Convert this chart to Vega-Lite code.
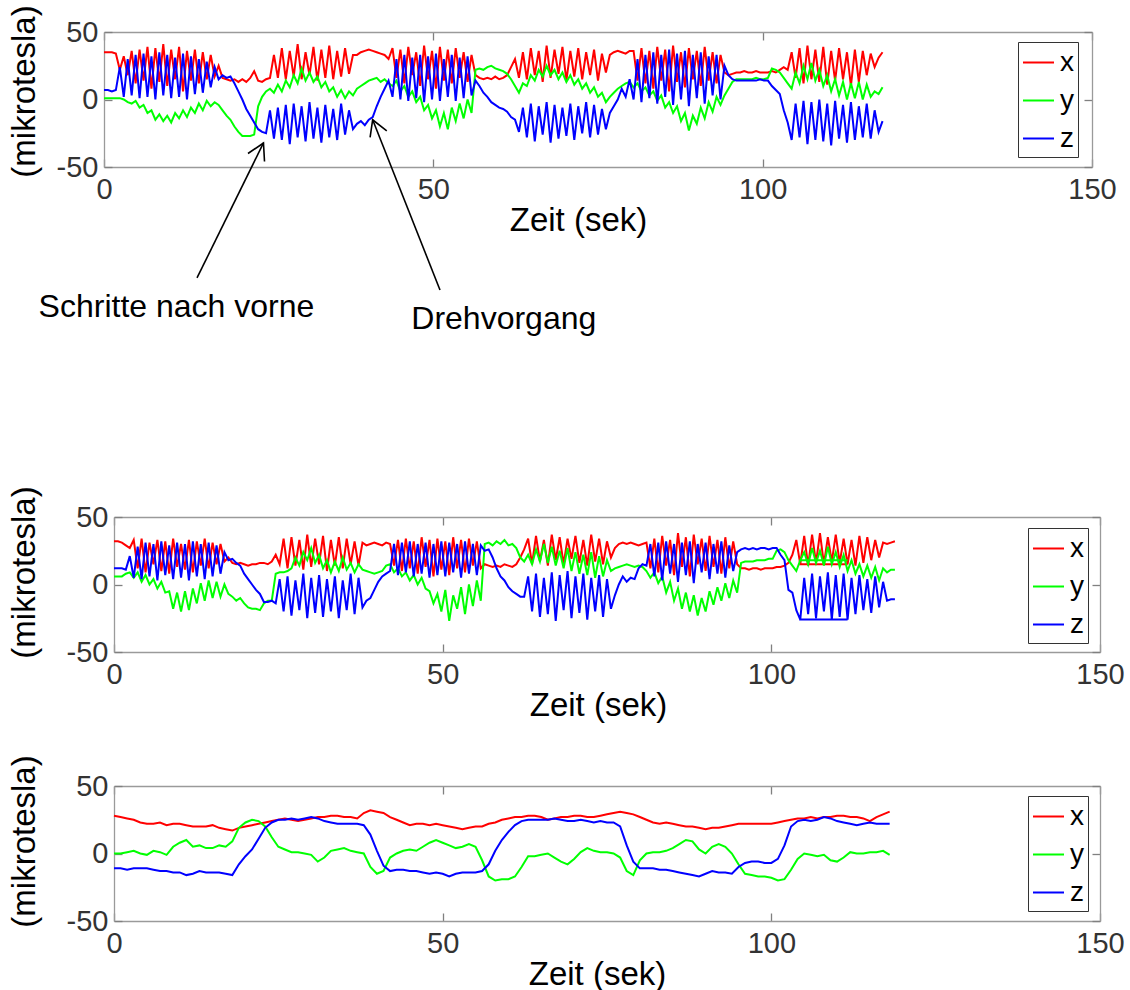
{
  "$schema": "https://vega.github.io/schema/vega-lite/v6.json",
  "background": "white",
  "autosize": {"type": "pad"},
  "padding": {"left": 8, "top": 4, "right": 0, "bottom": 0},
  "config": {
    "view": {"stroke": null},
    "font": "Liberation Sans",
    "axis": {
      "grid": false,
      "domainColor": "#9a9a9a",
      "domainWidth": 1.3,
      "tickColor": "#808080",
      "tickWidth": 1.3,
      "tickSize": -8,
      "labelFont": "Liberation Sans",
      "labelFontSize": 29,
      "labelColor": "#333333",
      "labelFlush": false,
      "labelOverlap": false,
      "labelExpr": "'' + datum.value",
      "titleFont": "Liberation Sans",
      "titleFontSize": 33,
      "titleFontWeight": "normal",
      "titleColor": "#000000"
    },
    "axisX": {"labelPadding": 16, "titlePadding": 0},
    "axisY": {"labelPadding": 14},
    "legend": {
      "orient": "none",
      "strokeColor": "#333333",
      "fillColor": "#ffffff",
      "padding": 4,
      "symbolType": "stroke",
      "symbolSize": 961,
      "symbolStrokeWidth": 2,
      "labelFont": "Liberation Sans",
      "labelFontSize": 28,
      "labelColor": "#000000",
      "labelOffset": 5,
      "rowPadding": 7,
      "cornerRadius": 0
    }
  },
  "datasets": {
    "messung1": [
      {"t":0,"x":35,"y":1,"z":7},{"t":0.6,"x":35,"y":1,"z":7},{"t":1.2,"x":35,"y":1,"z":6},{"t":1.8,"x":34,"y":1,"z":7},
      {"t":2.4,"x":22,"y":1,"z":24},{"t":3,"x":32,"y":0,"z":2},{"t":3.6,"x":18,"y":-2,"z":30},{"t":4.2,"x":36,"y":-3,"z":3},
      {"t":4.8,"x":12,"y":-1,"z":33},{"t":5.4,"x":37,"y":-6,"z":1},{"t":6,"x":14,"y":-4,"z":34},{"t":6.6,"x":39,"y":-10,"z":2},
      {"t":7.2,"x":8,"y":-8,"z":32},{"t":7.8,"x":38,"y":-15,"z":0},{"t":8.4,"x":13,"y":-11,"z":35},{"t":9,"x":41,"y":-16,"z":3},
      {"t":9.6,"x":10,"y":-12,"z":33},{"t":10.2,"x":37,"y":-17,"z":1},{"t":10.8,"x":15,"y":-10,"z":31},{"t":11.4,"x":39,"y":-14,"z":2},
      {"t":12,"x":6,"y":-8,"z":34},{"t":12.6,"x":36,"y":-13,"z":0},{"t":13.2,"x":14,"y":-6,"z":32},{"t":13.8,"x":37,"y":-10,"z":4},
      {"t":14.4,"x":12,"y":-3,"z":30},{"t":15,"x":35,"y":-8,"z":5},{"t":15.6,"x":15,"y":-1,"z":28},{"t":16.2,"x":33,"y":-5,"z":9},
      {"t":16.8,"x":17,"y":-2,"z":24},{"t":17.4,"x":25,"y":-4,"z":15},{"t":18,"x":16,"y":-8,"z":18},{"t":18.6,"x":15,"y":-12,"z":16},
      {"t":19.2,"x":14,"y":-15,"z":17},{"t":19.8,"x":15,"y":-20,"z":12},{"t":20.4,"x":13,"y":-24,"z":6},{"t":21,"x":15,"y":-27,"z":0},
      {"t":21.6,"x":13,"y":-27,"z":-7},{"t":22.2,"x":16,"y":-27,"z":-12},{"t":22.8,"x":21,"y":-26,"z":-17},{"t":23.4,"x":14,"y":-5,"z":-22},
      {"t":24,"x":13,"y":2,"z":-24},{"t":24.6,"x":15,"y":6,"z":-25},{"t":25.2,"x":16,"y":8,"z":-8},{"t":25.8,"x":33,"y":5,"z":-29},
      {"t":26.4,"x":16,"y":11,"z":-6},{"t":27,"x":38,"y":6,"z":-30},{"t":27.6,"x":15,"y":14,"z":-4},{"t":28.2,"x":36,"y":9,"z":-33},
      {"t":28.8,"x":17,"y":18,"z":-3},{"t":29.4,"x":41,"y":12,"z":-28},{"t":30,"x":15,"y":23,"z":-5},{"t":30.6,"x":35,"y":14,"z":-31},
      {"t":31.2,"x":18,"y":20,"z":-2},{"t":31.8,"x":39,"y":13,"z":-29},{"t":32.4,"x":14,"y":17,"z":-6},{"t":33,"x":37,"y":9,"z":-32},
      {"t":33.6,"x":16,"y":13,"z":-4},{"t":34.2,"x":40,"y":6,"z":-28},{"t":34.8,"x":15,"y":9,"z":-7},{"t":35.4,"x":36,"y":2,"z":-30},
      {"t":36,"x":17,"y":7,"z":-3},{"t":36.6,"x":38,"y":1,"z":-26},{"t":37.2,"x":19,"y":6,"z":-8},{"t":37.8,"x":33,"y":3,"z":-22},
      {"t":38.4,"x":33,"y":8,"z":-18},{"t":39,"x":35,"y":10,"z":-16},{"t":39.6,"x":36,"y":12,"z":-19},{"t":40.2,"x":37,"y":14,"z":-15},
      {"t":40.8,"x":36,"y":15,"z":-13},{"t":41.4,"x":35,"y":16,"z":-5},{"t":42,"x":34,"y":13,"z":2},{"t":42.6,"x":33,"y":15,"z":8},
      {"t":43.2,"x":30,"y":12,"z":14},{"t":43.8,"x":38,"y":10,"z":2},{"t":44.4,"x":16,"y":14,"z":30},{"t":45,"x":37,"y":6,"z":0},
      {"t":45.6,"x":12,"y":10,"z":33},{"t":46.2,"x":39,"y":2,"z":-1},{"t":46.8,"x":18,"y":6,"z":31},{"t":47.4,"x":35,"y":-2,"z":1},
      {"t":48,"x":10,"y":2,"z":33},{"t":48.6,"x":40,"y":-8,"z":-2},{"t":49.2,"x":15,"y":-4,"z":32},{"t":49.8,"x":36,"y":-14,"z":0},
      {"t":50.4,"x":8,"y":-8,"z":34},{"t":51,"x":39,"y":-20,"z":-1},{"t":51.6,"x":14,"y":-10,"z":30},{"t":52.2,"x":37,"y":-22,"z":2},
      {"t":52.8,"x":12,"y":-6,"z":33},{"t":53.4,"x":38,"y":-16,"z":-1},{"t":54,"x":16,"y":-3,"z":31},{"t":54.6,"x":35,"y":-14,"z":1},
      {"t":55.2,"x":13,"y":0,"z":32},{"t":55.8,"x":33,"y":-10,"z":3},{"t":56.4,"x":18,"y":22,"z":14},{"t":57,"x":16,"y":23,"z":10},
      {"t":57.6,"x":15,"y":22,"z":5},{"t":58.2,"x":16,"y":24,"z":2},{"t":58.8,"x":15,"y":25,"z":-2},{"t":59.4,"x":17,"y":23,"z":-4},
      {"t":60,"x":15,"y":22,"z":-6},{"t":60.6,"x":16,"y":21,"z":-7},{"t":61.2,"x":18,"y":19,"z":-9},{"t":61.8,"x":24,"y":15,"z":-13},
      {"t":62.4,"x":30,"y":10,"z":-15},{"t":63,"x":16,"y":5,"z":-24},{"t":63.6,"x":35,"y":12,"z":-6},{"t":64.2,"x":15,"y":10,"z":-28},
      {"t":64.8,"x":38,"y":18,"z":-3},{"t":65.4,"x":18,"y":14,"z":-31},{"t":66,"x":36,"y":22,"z":-5},{"t":66.6,"x":13,"y":17,"z":-26},
      {"t":67.2,"x":40,"y":25,"z":-2},{"t":67.8,"x":16,"y":18,"z":-32},{"t":68.4,"x":37,"y":22,"z":-4},{"t":69,"x":19,"y":15,"z":-29},
      {"t":69.6,"x":39,"y":20,"z":-6},{"t":70.2,"x":14,"y":13,"z":-27},{"t":70.8,"x":36,"y":18,"z":-3},{"t":71.4,"x":17,"y":11,"z":-30},
      {"t":72,"x":38,"y":15,"z":-5},{"t":72.6,"x":15,"y":8,"z":-25},{"t":73.2,"x":35,"y":12,"z":-2},{"t":73.8,"x":18,"y":5,"z":-28},
      {"t":74.4,"x":37,"y":9,"z":-4},{"t":75,"x":14,"y":2,"z":-26},{"t":75.6,"x":34,"y":5,"z":-7},{"t":76.2,"x":20,"y":-2,"z":-22},
      {"t":76.8,"x":33,"y":2,"z":-10},{"t":77.4,"x":35,"y":5,"z":-5},{"t":78,"x":36,"y":8,"z":0},{"t":78.6,"x":35,"y":10,"z":8},
      {"t":79.2,"x":34,"y":12,"z":2},{"t":79.8,"x":36,"y":13,"z":15},{"t":80.4,"x":36,"y":9,"z":0},{"t":81,"x":14,"y":12,"z":30},
      {"t":81.6,"x":38,"y":6,"z":-2},{"t":82.2,"x":12,"y":9,"z":33},{"t":82.8,"x":36,"y":3,"z":1},{"t":83.4,"x":8,"y":6,"z":35},
      {"t":84,"x":39,"y":-1,"z":-3},{"t":84.6,"x":14,"y":3,"z":33},{"t":85.2,"x":37,"y":-6,"z":2},{"t":85.8,"x":6,"y":-2,"z":37},
      {"t":86.4,"x":40,"y":-10,"z":-4},{"t":87,"x":13,"y":-5,"z":34},{"t":87.6,"x":35,"y":-16,"z":0},{"t":88.2,"x":9,"y":-10,"z":36},
      {"t":88.8,"x":38,"y":-23,"z":-5},{"t":89.4,"x":15,"y":-12,"z":33},{"t":90,"x":36,"y":-18,"z":1},{"t":90.6,"x":10,"y":-6,"z":35},
      {"t":91.2,"x":39,"y":-14,"z":-3},{"t":91.8,"x":14,"y":-2,"z":32},{"t":92.4,"x":35,"y":-9,"z":3},{"t":93,"x":12,"y":2,"z":33},
      {"t":93.6,"x":33,"y":-4,"z":0},{"t":94.2,"x":20,"y":3,"z":25},{"t":94.8,"x":18,"y":8,"z":18},{"t":95.4,"x":19,"y":13,"z":15},
      {"t":96,"x":20,"y":15,"z":14},{"t":96.6,"x":20,"y":15,"z":14},{"t":97.2,"x":21,"y":15,"z":14},{"t":97.8,"x":20,"y":15,"z":14},
      {"t":98.4,"x":20,"y":15,"z":14},{"t":99,"x":21,"y":16,"z":14},{"t":99.6,"x":20,"y":15,"z":15},{"t":100.2,"x":20,"y":15,"z":14},
      {"t":100.8,"x":20,"y":16,"z":14},{"t":101.4,"x":21,"y":23,"z":10},{"t":102,"x":20,"y":22,"z":7},{"t":102.6,"x":22,"y":20,"z":4},
      {"t":103.2,"x":24,"y":16,"z":-8},{"t":103.8,"x":22,"y":12,"z":-17},{"t":104.4,"x":35,"y":8,"z":-30},{"t":105,"x":16,"y":20,"z":-3},
      {"t":105.6,"x":38,"y":12,"z":-28},{"t":106.2,"x":12,"y":25,"z":-1},{"t":106.8,"x":40,"y":15,"z":-33},{"t":107.4,"x":15,"y":27,"z":-2},
      {"t":108,"x":37,"y":14,"z":-30},{"t":108.6,"x":13,"y":22,"z":0},{"t":109.2,"x":39,"y":10,"z":-31},{"t":109.8,"x":11,"y":18,"z":-3},
      {"t":110.4,"x":36,"y":6,"z":-34},{"t":111,"x":14,"y":15,"z":-1},{"t":111.6,"x":38,"y":3,"z":-29},{"t":112.2,"x":15,"y":13,"z":-4},
      {"t":112.8,"x":35,"y":0,"z":-32},{"t":113.4,"x":10,"y":12,"z":-2},{"t":114,"x":37,"y":1,"z":-30},{"t":114.6,"x":13,"y":13,"z":-5},
      {"t":115.2,"x":36,"y":0,"z":-28},{"t":115.8,"x":18,"y":11,"z":-3},{"t":116.4,"x":34,"y":2,"z":-29},{"t":117,"x":24,"y":6,"z":-8},
      {"t":117.6,"x":31,"y":4,"z":-24},{"t":118.2,"x":35,"y":9,"z":-16}
    ],
    "messung2": [
      {"i":0,"t":0,"x":32,"y":6,"z":12},{"i":1,"t":0.6,"x":32,"y":6,"z":12},{"i":2,"t":1.2,"x":31,"y":6,"z":12},{"i":3,"t":1.8,"x":29,"y":8,"z":11},
      {"i":4,"t":2.4,"x":27,"y":9,"z":21},{"i":5,"t":3,"x":33,"y":5,"z":5},{"i":6,"t":3.6,"x":12,"y":9,"z":28},{"i":7,"t":4.2,"x":34,"y":2,"z":4},
      {"i":8,"t":4.8,"x":9,"y":7,"z":31},{"i":9,"t":5.4,"x":31,"y":0,"z":6},{"i":10,"t":6,"x":15,"y":4,"z":30},{"i":11,"t":6.6,"x":33,"y":-3,"z":3},
      {"i":12,"t":7.2,"x":10,"y":2,"z":32},{"i":13,"t":7.8,"x":32,"y":-6,"z":7},{"i":14,"t":8.4,"x":8,"y":-5,"z":29},{"i":15,"t":9,"x":34,"y":-18,"z":4},
      {"i":16,"t":9.6,"x":13,"y":-6,"z":31},{"i":17,"t":10.2,"x":30,"y":-20,"z":5},{"i":18,"t":10.8,"x":11,"y":-5,"z":30},{"i":19,"t":11.4,"x":33,"y":-19,"z":3},
      {"i":20,"t":12,"x":9,"y":-3,"z":32},{"i":21,"t":12.6,"x":32,"y":-14,"z":6},{"i":22,"t":13.2,"x":14,"y":1,"z":30},{"i":23,"t":13.8,"x":34,"y":-12,"z":4},
      {"i":24,"t":14.4,"x":12,"y":3,"z":31},{"i":25,"t":15,"x":31,"y":-10,"z":6},{"i":26,"t":15.6,"x":15,"y":2,"z":29},{"i":27,"t":16.2,"x":30,"y":-9,"z":8},
      {"i":28,"t":16.8,"x":17,"y":0,"z":24},{"i":29,"t":17.4,"x":20,"y":-7,"z":18},{"i":30,"t":18,"x":16,"y":-9,"z":19},{"i":31,"t":18.6,"x":15,"y":-12,"z":16},
      {"i":32,"t":19.2,"x":16,"y":-10,"z":14},{"i":33,"t":19.8,"x":15,"y":-14,"z":8},{"i":34,"t":20.4,"x":14,"y":-17,"z":4},{"i":35,"t":21,"x":15,"y":-18,"z":0},
      {"i":36,"t":21.6,"x":15,"y":-18,"z":-4},{"i":37,"t":22.2,"x":16,"y":-19,"z":-7},{"i":38,"t":22.8,"x":16,"y":-14,"z":-13},{"i":39,"t":23.4,"x":15,"y":-12,"z":-13},
      {"i":40,"t":24,"x":17,"y":-12,"z":-12},{"i":41,"t":24.6,"x":22,"y":8,"z":-14},{"i":42,"t":25.2,"x":15,"y":9,"z":4},{"i":43,"t":25.8,"x":34,"y":9,"z":-20},
      {"i":44,"t":26.4,"x":12,"y":10,"z":6},{"i":45,"t":27,"x":35,"y":12,"z":-23},{"i":46,"t":27.6,"x":14,"y":20,"z":3},{"i":47,"t":28.2,"x":33,"y":14,"z":-19},
      {"i":48,"t":28.8,"x":11,"y":24,"z":8},{"i":49,"t":29.4,"x":37,"y":18,"z":-25},{"i":50,"t":30,"x":13,"y":27,"z":5},{"i":51,"t":30.6,"x":34,"y":16,"z":-21},
      {"i":52,"t":31.2,"x":15,"y":22,"z":7},{"i":53,"t":31.8,"x":36,"y":12,"z":-24},{"i":54,"t":32.4,"x":10,"y":18,"z":4},{"i":55,"t":33,"x":33,"y":9,"z":-20},
      {"i":56,"t":33.6,"x":14,"y":17,"z":6},{"i":57,"t":34.2,"x":35,"y":10,"z":-25},{"i":58,"t":34.8,"x":12,"y":20,"z":3},{"i":59,"t":35.4,"x":34,"y":11,"z":-19},
      {"i":60,"t":36,"x":15,"y":16,"z":8},{"i":61,"t":36.6,"x":32,"y":9,"z":-22},{"i":62,"t":37.2,"x":14,"y":15,"z":5},{"i":63,"t":37.8,"x":31,"y":11,"z":-17},
      {"i":64,"t":38.4,"x":29,"y":10,"z":-12},{"i":65,"t":39,"x":30,"y":9,"z":-10},{"i":66,"t":39.6,"x":31,"y":8,"z":-4},{"i":67,"t":40.2,"x":30,"y":9,"z":2},
      {"i":68,"t":40.8,"x":29,"y":10,"z":6},{"i":69,"t":41.4,"x":31,"y":14,"z":8},{"i":70,"t":42,"x":30,"y":15,"z":10},{"i":71,"t":42.6,"x":14,"y":9,"z":30},
      {"i":72,"t":43.2,"x":33,"y":12,"z":7},{"i":73,"t":43.8,"x":10,"y":6,"z":31},{"i":74,"t":44.4,"x":34,"y":9,"z":9},{"i":75,"t":45,"x":12,"y":3,"z":32},
      {"i":76,"t":45.6,"x":32,"y":7,"z":6},{"i":77,"t":46.2,"x":8,"y":0,"z":30},{"i":78,"t":46.8,"x":35,"y":5,"z":8},{"i":79,"t":47.4,"x":13,"y":-3,"z":31},
      {"i":80,"t":48,"x":33,"y":-5,"z":5},{"i":81,"t":48.6,"x":6,"y":-14,"z":30},{"i":82,"t":49.2,"x":34,"y":-7,"z":7},{"i":83,"t":49.8,"x":11,"y":-20,"z":32},
      {"i":84,"t":50.4,"x":32,"y":-4,"z":6},{"i":85,"t":51,"x":7,"y":-27,"z":31},{"i":86,"t":51.6,"x":35,"y":-8,"z":9},{"i":87,"t":52.2,"x":12,"y":-18,"z":30},
      {"i":88,"t":52.8,"x":33,"y":-2,"z":5},{"i":89,"t":53.4,"x":9,"y":-22,"z":32},{"i":90,"t":54,"x":34,"y":0,"z":8},{"i":91,"t":54.6,"x":14,"y":-16,"z":30},
      {"i":92,"t":55.2,"x":32,"y":3,"z":7},{"i":93,"t":55.8,"x":12,"y":-12,"z":29},{"i":94,"t":56.4,"x":15,"y":30,"z":25},{"i":95,"t":57,"x":14,"y":31,"z":26},
      {"i":96,"t":57.6,"x":13,"y":29,"z":20},{"i":97,"t":58.2,"x":14,"y":32,"z":12},{"i":98,"t":58.8,"x":13,"y":30,"z":6},{"i":99,"t":59.4,"x":15,"y":33,"z":3},
      {"i":100,"t":60,"x":14,"y":29,"z":-2},{"i":101,"t":60.6,"x":13,"y":30,"z":-5},{"i":102,"t":61.2,"x":15,"y":27,"z":-7},{"i":103,"t":61.8,"x":20,"y":20,"z":-9},
      {"i":104,"t":62.4,"x":26,"y":17,"z":-9},{"i":105,"t":63,"x":34,"y":22,"z":6},{"i":106,"t":63.6,"x":15,"y":15,"z":-20},{"i":107,"t":64.2,"x":36,"y":26,"z":8},
      {"i":108,"t":64.8,"x":17,"y":17,"z":-24},{"i":109,"t":65.4,"x":33,"y":30,"z":5},{"i":110,"t":66,"x":14,"y":16,"z":-22},{"i":111,"t":66.6,"x":37,"y":28,"z":9},
      {"i":112,"t":67.2,"x":18,"y":14,"z":-27},{"i":113,"t":67.8,"x":35,"y":25,"z":7},{"i":114,"t":68.4,"x":15,"y":12,"z":-19},{"i":115,"t":69,"x":34,"y":27,"z":10},
      {"i":116,"t":69.6,"x":19,"y":10,"z":-25},{"i":117,"t":70.2,"x":36,"y":24,"z":6},{"i":118,"t":70.8,"x":16,"y":8,"z":-21},{"i":119,"t":71.4,"x":33,"y":22,"z":8},
      {"i":120,"t":72,"x":14,"y":7,"z":-26},{"i":121,"t":72.6,"x":37,"y":24,"z":5},{"i":122,"t":73.2,"x":17,"y":5,"z":-20},{"i":123,"t":73.8,"x":34,"y":21,"z":7},
      {"i":124,"t":74.4,"x":15,"y":6,"z":-24},{"i":125,"t":75,"x":32,"y":18,"z":4},{"i":126,"t":75.6,"x":20,"y":10,"z":-18},{"i":127,"t":76.2,"x":27,"y":12,"z":-8},
      {"i":128,"t":76.8,"x":30,"y":13,"z":0},{"i":129,"t":77.4,"x":31,"y":14,"z":6},{"i":130,"t":78,"x":30,"y":15,"z":2},{"i":131,"t":78.6,"x":31,"y":14,"z":5},
      {"i":132,"t":79.2,"x":30,"y":13,"z":4},{"i":133,"t":79.8,"x":29,"y":14,"z":12},{"i":134,"t":80.4,"x":30,"y":13,"z":15},{"i":135,"t":81,"x":31,"y":10,"z":14},
      {"i":136,"t":81.6,"x":12,"y":5,"z":30},{"i":137,"t":82.2,"x":34,"y":9,"z":6},{"i":138,"t":82.8,"x":9,"y":1,"z":31},{"i":139,"t":83.4,"x":36,"y":6,"z":3},
      {"i":140,"t":84,"x":14,"y":-6,"z":32},{"i":141,"t":84.6,"x":33,"y":2,"z":8},{"i":142,"t":85.2,"x":7,"y":-12,"z":30},{"i":143,"t":85.8,"x":38,"y":-3,"z":2},
      {"i":144,"t":86.4,"x":13,"y":-18,"z":31},{"i":145,"t":87,"x":35,"y":-6,"z":7},{"i":146,"t":87.6,"x":6,"y":-20,"z":32},{"i":147,"t":88.2,"x":37,"y":-8,"z":1},
      {"i":148,"t":88.8,"x":15,"y":-23,"z":30},{"i":149,"t":89.4,"x":34,"y":-10,"z":9},{"i":150,"t":90,"x":10,"y":-20,"z":31},{"i":151,"t":90.6,"x":36,"y":-5,"z":4},
      {"i":152,"t":91.2,"x":13,"y":-15,"z":30},{"i":153,"t":91.8,"x":33,"y":-2,"z":8},{"i":154,"t":92.4,"x":8,"y":-12,"z":32},{"i":155,"t":93,"x":35,"y":1,"z":5},
      {"i":156,"t":93.6,"x":12,"y":-10,"z":29},{"i":157,"t":94.2,"x":32,"y":3,"z":10},{"i":158,"t":94.8,"x":15,"y":-6,"z":24},{"i":159,"t":95.4,"x":12,"y":16,"z":26},
      {"i":160,"t":96,"x":12,"y":17,"z":27},{"i":161,"t":96.6,"x":11,"y":17,"z":26},{"i":162,"t":97.2,"x":12,"y":17,"z":27},{"i":163,"t":97.8,"x":12,"y":18,"z":26},
      {"i":164,"t":98.4,"x":11,"y":18,"z":27},{"i":165,"t":99,"x":12,"y":18,"z":27},{"i":166,"t":99.6,"x":12,"y":19,"z":26},{"i":167,"t":100.2,"x":12,"y":19,"z":27},
      {"i":168,"t":100.8,"x":13,"y":25,"z":27},{"i":169,"t":101.4,"x":13,"y":26,"z":22},{"i":170,"t":102,"x":14,"y":24,"z":18},{"i":171,"t":102.6,"x":16,"y":18,"z":-4},
      {"i":172,"t":103.2,"x":22,"y":14,"z":-6},{"i":173,"t":103.8,"x":33,"y":10,"z":-19},{"i":174,"t":104.4,"x":15,"y":18,"z":-26},{"i":175,"t":111.6,"x":15,"y":18,"z":-26},
      {"i":176,"t":104.4,"x":15,"y":18,"z":-26},{"i":177,"t":105,"x":36,"y":24,"z":5},{"i":178,"t":105.6,"x":14,"y":15,"z":-22},{"i":179,"t":106.2,"x":37,"y":27,"z":8},
      {"i":180,"t":106.8,"x":16,"y":16,"z":-25},{"i":181,"t":107.4,"x":38,"y":25,"z":6},{"i":182,"t":108,"x":15,"y":14,"z":-20},{"i":183,"t":108.6,"x":35,"y":28,"z":9},
      {"i":184,"t":109.2,"x":17,"y":15,"z":-26},{"i":185,"t":109.8,"x":37,"y":24,"z":7},{"i":186,"t":110.4,"x":16,"y":13,"z":-24},{"i":187,"t":111,"x":34,"y":22,"z":8},
      {"i":188,"t":111.6,"x":15,"y":10,"z":-26},{"i":189,"t":112.2,"x":33,"y":18,"z":5},{"i":190,"t":112.8,"x":14,"y":8,"z":-22},{"i":191,"t":113.4,"x":36,"y":15,"z":7},
      {"i":192,"t":114,"x":16,"y":6,"z":-19},{"i":193,"t":114.6,"x":35,"y":14,"z":4},{"i":194,"t":115.2,"x":18,"y":5,"z":-21},{"i":195,"t":115.8,"x":33,"y":13,"z":6},
      {"i":196,"t":116.4,"x":20,"y":3,"z":-17},{"i":197,"t":117,"x":31,"y":12,"z":2},{"i":198,"t":117.6,"x":30,"y":9,"z":-12},{"i":199,"t":118.2,"x":31,"y":11,"z":-11},
      {"i":200,"t":118.8,"x":32,"y":11,"z":-11}
    ],
    "messung3": [
      {"t":0,"x":28,"y":0,"z":-11},{"t":1,"x":27,"y":0,"z":-11},{"t":2,"x":26,"y":1,"z":-12},{"t":3,"x":25,"y":2,"z":-11},{"t":4,"x":23,"y":0,"z":-11},
      {"t":5,"x":22,"y":-1,"z":-11},{"t":6,"x":22,"y":2,"z":-12},{"t":7,"x":23,"y":1,"z":-13},{"t":8,"x":21,"y":-1,"z":-13},{"t":9,"x":22,"y":5,"z":-14},
      {"t":10,"x":22,"y":8,"z":-14},{"t":11,"x":21,"y":10,"z":-16},{"t":12,"x":20,"y":5,"z":-15},{"t":13,"x":20,"y":6,"z":-13},{"t":14,"x":20,"y":4,"z":-14},
      {"t":15,"x":21,"y":4,"z":-14},{"t":16,"x":19,"y":6,"z":-14},{"t":17,"x":18,"y":5,"z":-15},{"t":18,"x":17,"y":9,"z":-16},{"t":19,"x":19,"y":19,"z":-8},
      {"t":20,"x":20,"y":23,"z":-2},{"t":21,"x":21,"y":25,"z":3},{"t":22,"x":22,"y":24,"z":11},{"t":23,"x":23,"y":20,"z":19},{"t":24,"x":24,"y":12,"z":23},
      {"t":25,"x":25,"y":5,"z":25},{"t":26,"x":26,"y":3,"z":25},{"t":27,"x":25,"y":1,"z":26},{"t":28,"x":24,"y":1,"z":25},{"t":29,"x":25,"y":0,"z":26},
      {"t":30,"x":26,"y":-1,"z":27},{"t":31,"x":27,"y":-6,"z":26},{"t":32,"x":27,"y":-3,"z":24},{"t":33,"x":28,"y":2,"z":23},{"t":34,"x":28,"y":3,"z":22},
      {"t":35,"x":27,"y":4,"z":22},{"t":36,"x":27,"y":2,"z":22},{"t":37,"x":26,"y":1,"z":22},{"t":38,"x":30,"y":0,"z":21},{"t":39,"x":32,"y":-10,"z":14},
      {"t":40,"x":31,"y":-15,"z":2},{"t":41,"x":30,"y":-13,"z":-9},{"t":42,"x":27,"y":-3,"z":-13},{"t":43,"x":25,"y":0,"z":-12},{"t":44,"x":23,"y":2,"z":-12},
      {"t":45,"x":21,"y":3,"z":-13},{"t":46,"x":22,"y":2,"z":-13},{"t":47,"x":22,"y":5,"z":-14},{"t":48,"x":21,"y":8,"z":-15},{"t":49,"x":22,"y":10,"z":-14},
      {"t":50,"x":21,"y":8,"z":-15},{"t":51,"x":20,"y":6,"z":-17},{"t":52,"x":19,"y":4,"z":-15},{"t":53,"x":18,"y":5,"z":-14},{"t":54,"x":19,"y":7,"z":-14},
      {"t":55,"x":20,"y":5,"z":-14},{"t":56,"x":20,"y":-5,"z":-13},{"t":57,"x":22,"y":-17,"z":-8},{"t":58,"x":23,"y":-20,"z":2},{"t":59,"x":25,"y":-19,"z":10},
      {"t":60,"x":26,"y":-19,"z":16},{"t":61,"x":27,"y":-17,"z":21},{"t":62,"x":27,"y":-10,"z":24},{"t":63,"x":28,"y":-2,"z":25},{"t":64,"x":28,"y":-2,"z":25},
      {"t":65,"x":27,"y":-1,"z":25},{"t":66,"x":25,"y":0,"z":25},{"t":67,"x":26,"y":-3,"z":26},{"t":68,"x":27,"y":-6,"z":25},{"t":69,"x":27,"y":-8,"z":24},
      {"t":70,"x":28,"y":-4,"z":24},{"t":71,"x":28,"y":1,"z":25},{"t":72,"x":27,"y":4,"z":24},{"t":73,"x":27,"y":2,"z":23},{"t":74,"x":28,"y":1,"z":24},
      {"t":75,"x":29,"y":1,"z":23},{"t":76,"x":30,"y":0,"z":23},{"t":77,"x":31,"y":-3,"z":20},{"t":78,"x":30,"y":-13,"z":6},{"t":79,"x":29,"y":-16,"z":-6},
      {"t":80,"x":27,"y":-5,"z":-11},{"t":81,"x":25,"y":0,"z":-11},{"t":82,"x":23,"y":1,"z":-11},{"t":83,"x":22,"y":1,"z":-12},{"t":84,"x":23,"y":2,"z":-12},
      {"t":85,"x":22,"y":4,"z":-13},{"t":86,"x":21,"y":7,"z":-14},{"t":87,"x":20,"y":10,"z":-15},{"t":88,"x":20,"y":9,"z":-16},{"t":89,"x":19,"y":3,"z":-17},
      {"t":90,"x":18,"y":0,"z":-15},{"t":91,"x":19,"y":5,"z":-13},{"t":92,"x":19,"y":7,"z":-14},{"t":93,"x":20,"y":5,"z":-14},{"t":94,"x":21,"y":0,"z":-15},
      {"t":95,"x":22,"y":-8,"z":-10},{"t":96,"x":22,"y":-15,"z":-7},{"t":97,"x":22,"y":-16,"z":-6},{"t":98,"x":22,"y":-17,"z":-6},{"t":99,"x":22,"y":-17,"z":-7},
      {"t":100,"x":22,"y":-18,"z":-7},{"t":101,"x":23,"y":-20,"z":-4},{"t":102,"x":24,"y":-19,"z":6},{"t":103,"x":25,"y":-12,"z":20},{"t":104,"x":26,"y":-4,"z":24},
      {"t":105,"x":26,"y":0,"z":25},{"t":106,"x":27,"y":-1,"z":24},{"t":107,"x":26,"y":-2,"z":25},{"t":108,"x":27,"y":-1,"z":27},{"t":109,"x":27,"y":-5,"z":26},
      {"t":110,"x":28,"y":-6,"z":24},{"t":111,"x":28,"y":-3,"z":23},{"t":112,"x":27,"y":1,"z":22},{"t":113,"x":27,"y":0,"z":21},{"t":114,"x":26,"y":0,"z":22},
      {"t":115,"x":24,"y":1,"z":23},{"t":116,"x":27,"y":1,"z":22},{"t":117,"x":29,"y":2,"z":22},{"t":118,"x":31,"y":-1,"z":22}
    ]
  },
  "vconcat": [
    {
      "width": 978,
      "height": 135,
      "layer": [
        {
          "data": {"name": "messung1"},
          "transform": [{"fold": ["x", "y", "z"], "as": ["achse", "wert"]}],
          "mark": {"type": "line", "strokeWidth": 2},
          "encoding": {
            "x": {"field": "t", "type": "quantitative", "scale": {"domain": [0, 150], "range": [-10, 978]},
                  "axis": {"orient": "bottom", "values": [0, 50, 100, 150], "title": "Zeit (sek)", "titleX": 464}},
            "y": {"field": "wert", "type": "quantitative", "scale": {"domain": [-50, 50]},
                  "axis": {"orient": "left", "values": [-50, 0, 50], "title": "(mikrotesla)", "offset": 10, "titlePadding": 15, "titleY": 59}},
            "color": {"field": "achse", "type": "nominal",
                      "scale": {"domain": ["x", "y", "z"], "range": ["#ff0000", "#00ff00", "#0000ff"]},
                      "legend": {"title": null, "orient": "none", "legendX": 904, "legendY": 10}}
          }
        },
        {
          "data": {"values": [{}]},
          "mark": {"type": "point", "opacity": 0},
          "encoding": {
            "x": {"datum": 0, "type": "quantitative", "scale": {"domain": [0, 150], "range": [-10, 978]},
                  "axis": {"orient": "top", "values": [0, 50, 100, 150], "labels": false, "title": null}},
            "y": {"datum": 0, "type": "quantitative", "scale": {"domain": [-50, 50]},
                  "axis": {"orient": "right", "values": [-50, 0, 50], "labels": false, "title": null}}
          }
        },
        {
          "data": {"values": [
            {"pfeil": "a1", "n": 0, "t": 14.12, "v": -132.2},
            {"pfeil": "a1", "n": 1, "t": 24.21, "v": -32.2},
            {"pfeil": "a1s", "n": 0, "t": 21.86, "v": -40.0},
            {"pfeil": "a1s", "n": 1, "t": 24.21, "v": -32.2},
            {"pfeil": "a1s", "n": 2, "t": 24.37, "v": -45.9},
            {"pfeil": "a2", "n": 0, "t": 51.01, "v": -141.1},
            {"pfeil": "a2", "n": 1, "t": 40.79, "v": -15.0},
            {"pfeil": "a2s", "n": 0, "t": 40.40, "v": -28.1},
            {"pfeil": "a2s", "n": 1, "t": 40.79, "v": -15.0},
            {"pfeil": "a2s", "n": 2, "t": 42.93, "v": -23.3}
          ]},
          "mark": {"type": "line", "color": "#000000", "strokeWidth": 1.6},
          "encoding": {
            "x": {"field": "t", "type": "quantitative", "scale": {"domain": [0, 150], "range": [-10, 978]}, "axis": null},
            "y": {"field": "v", "type": "quantitative", "scale": {"domain": [-50, 50]}, "axis": null},
            "detail": {"field": "pfeil"},
            "order": {"field": "n"}
          }
        },
        {
          "data": {"values": [
            {"t": 11.0, "v": -153.7, "text": "Schritte nach vorne"},
            {"t": 60.7, "v": -162.6, "text": "Drehvorgang"}
          ]},
          "mark": {"type": "text", "font": "Liberation Sans", "fontSize": 32, "color": "#000000", "align": "center", "baseline": "middle"},
          "encoding": {
            "x": {"field": "t", "type": "quantitative", "scale": {"domain": [0, 150], "range": [-10, 978]}, "axis": null},
            "y": {"field": "v", "type": "quantitative", "scale": {"domain": [-50, 50]}, "axis": null},
            "text": {"field": "text"}
          }
        }
      ],
      "resolve": {"axis": {"x": "independent", "y": "independent"}}
    },
    {
      "vconcat": [
        {
          "width": 986,
          "height": 135,
          "layer": [
            {
              "data": {"name": "messung2"},
              "transform": [{"fold": ["x", "y", "z"], "as": ["achse", "wert"]}],
              "mark": {"type": "line", "strokeWidth": 2},
              "encoding": {
                "x": {"field": "t", "type": "quantitative", "scale": {"domain": [0, 150]},
                      "axis": {"orient": "bottom", "values": [0, 50, 100, 150], "title": "Zeit (sek)", "titleX": 484}},
                "y": {"field": "wert", "type": "quantitative", "scale": {"domain": [-50, 50]},
                      "axis": {"orient": "left", "values": [-50, 0, 50], "title": "(mikrotesla)", "titlePadding": 25, "titleY": 55}},
                "color": {"field": "achse", "type": "nominal",
                          "scale": {"domain": ["x", "y", "z"], "range": ["#ff0000", "#00ff00", "#0000ff"]},
                          "legend": {"title": null, "orient": "none", "legendX": 914, "legendY": 11}},
                "order": {"field": "i"}
              }
            },
            {
              "data": {"values": [{}]},
              "mark": {"type": "point", "opacity": 0},
              "encoding": {
                "x": {"datum": 0, "type": "quantitative", "scale": {"domain": [0, 150]},
                      "axis": {"orient": "top", "values": [0, 50, 100, 150], "labels": false, "title": null}},
                "y": {"datum": 0, "type": "quantitative", "scale": {"domain": [-50, 50]},
                      "axis": {"orient": "right", "values": [-50, 0, 50], "labels": false, "title": null}}
              }
            }
          ],
          "resolve": {"axis": {"x": "independent", "y": "independent"}}
        },
        {
          "width": 986,
          "height": 135,
          "layer": [
            {
              "data": {"name": "messung3"},
              "transform": [{"fold": ["x", "y", "z"], "as": ["achse", "wert"]}],
              "mark": {"type": "line", "strokeWidth": 2},
              "encoding": {
                "x": {"field": "t", "type": "quantitative", "scale": {"domain": [0, 150]},
                      "axis": {"orient": "bottom", "values": [0, 50, 100, 150], "title": "Zeit (sek)", "titleX": 483}},
                "y": {"field": "wert", "type": "quantitative", "scale": {"domain": [-50, 50]},
                      "axis": {"orient": "left", "values": [-50, 0, 50], "title": "(mikrotesla)", "titlePadding": 25, "titleY": 55}},
                "color": {"field": "achse", "type": "nominal",
                          "scale": {"domain": ["x", "y", "z"], "range": ["#ff0000", "#00ff00", "#0000ff"]},
                          "legend": {"title": null, "orient": "none", "legendX": 914, "legendY": 10}}
              }
            },
            {
              "data": {"values": [{}]},
              "mark": {"type": "point", "opacity": 0},
              "encoding": {
                "x": {"datum": 0, "type": "quantitative", "scale": {"domain": [0, 150]},
                      "axis": {"orient": "top", "values": [0, 50, 100, 150], "labels": false, "title": null}},
                "y": {"datum": 0, "type": "quantitative", "scale": {"domain": [-50, 50]},
                      "axis": {"orient": "right", "values": [-50, 0, 50], "labels": false, "title": null}}
              }
            }
          ],
          "resolve": {"axis": {"x": "independent", "y": "independent"}}
        }
      ],
      "spacing": 134,
      "bounds": "flush",
      "resolve": {"scale": {"color": "independent"}, "legend": {"color": "independent"}}
    }
  ],
  "spacing": 350,
  "bounds": "flush",
  "resolve": {"scale": {"color": "independent"}, "legend": {"color": "independent"}}
}
